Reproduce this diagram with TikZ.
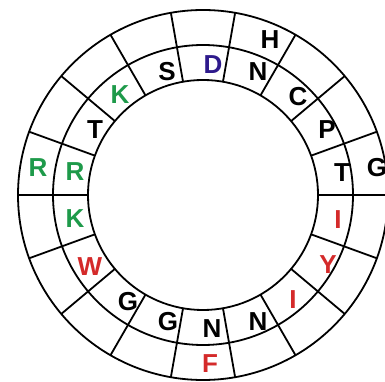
\documentclass[tikz,border=0pt]{standalone}
\usepackage{fontspec}
\setmainfont{Liberation Sans}
\usepackage{xcolor}
\definecolor{resgreen}{HTML}{1E9A4A}
\definecolor{resred}{HTML}{D42A2A}
\definecolor{resblue}{HTML}{2E1A8C}

\begin{document}
\begin{tikzpicture}[x=1pt, y=1pt,
  ring/.style={draw=black, line width=1.8pt},
  res/.style={font=\bfseries\fontsize{26}{26}\selectfont, inner sep=0pt, text=black},
  basicres/.style={res, text=resgreen},
  acidres/.style={res, text=resblue},
  hydres/.style={res, text=resred}
]

\useasboundingbox (-203,-187) rectangle (182,195);
\clip (-203,-187) rectangle (182,195);

% wheel
\draw[ring] (0,0) circle[radius=115pt];
\draw[ring] (0,0) circle[radius=150pt];
\draw[ring] (0,0) circle[radius=185pt];
\foreach \a in {0,20,...,340}
  \draw[ring] (\a:115pt) -- (\a:185pt);

% inner ring
\node[res] (t1) at (139,22) {T};
\node[res] (p1) at (124,65) {P};
\node[res] (c1) at (95,98) {C};
\node[res] (n1) at (55,123) {N};
\node[acidres] (d1) at (10,130) {D};
\node[res] (s1) at (-36,123) {S};
\node[basicres] (k1) at (-83,100) {K};
\node[res] (t2) at (-108,65) {T};
\node[basicres] (r1) at (-128,23) {R};
\node[basicres] (k2) at (-128,-24) {K};
\node[hydres] (w1) at (-113,-72) {W};
\node[res] (g1) at (-75,-107) {G};
\node[res] (g2) at (-35,-127) {G};
\node[res] (n2) at (9,-134) {N};
\node[res] (n3) at (55,-127) {N};
\node[hydres] (i1) at (90,-105) {I};
\node[hydres] (y1) at (125,-70) {Y};
\node[hydres] (i2) at (135,-25) {I};

% outer ring
\node[res] (g3) at (174,27) {G};
\node[res] (h1) at (67,155) {H};
\node[basicres] (r2) at (-165,27) {R};
\node[hydres] (f1) at (7,-169) {F};

\end{tikzpicture}
\end{document}
